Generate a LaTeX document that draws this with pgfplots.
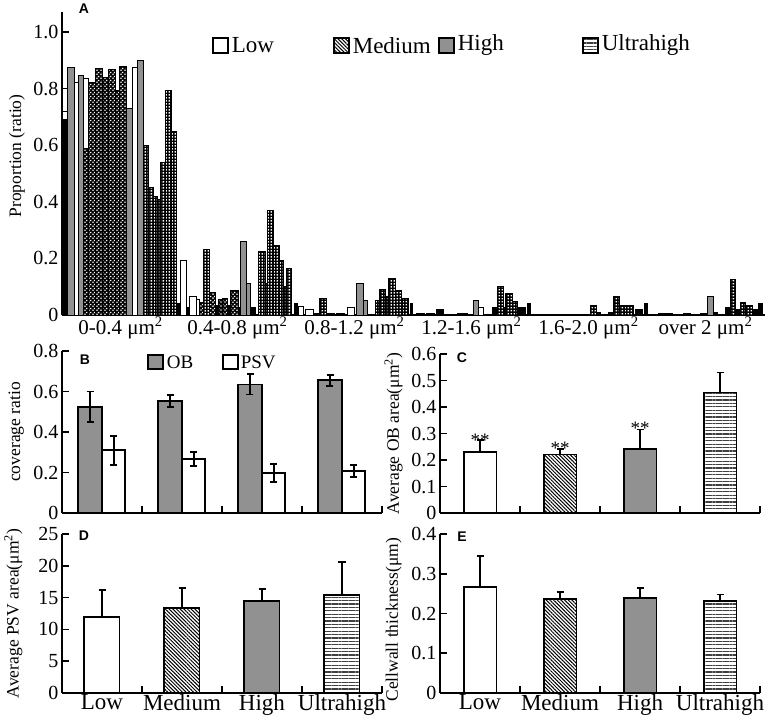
\documentclass[border=0pt]{standalone}
\usepackage{fontspec}
\setmainfont{Liberation Serif}
\newfontfamily\lsans{Liberation Sans}
\usepackage{pgfplots}
\pgfplotsset{compat=1.18}
\usetikzlibrary{patterns,patterns.meta}
\definecolor{gry}{RGB}{145,145,145}
\pgfdeclarepatternformonly{wsq}{\pgfqpoint{0pt}{0pt}}{\pgfqpoint{3pt}{3pt}}{\pgfqpoint{3pt}{3pt}}{\pgfpathrectangle{\pgfqpoint{0.65pt}{0.65pt}}{\pgfqpoint{1.7pt}{1.7pt}}\pgfusepath{fill}}
\pgfdeclarepatternformonly{wdi}{\pgfqpoint{0pt}{0pt}}{\pgfqpoint{4pt}{4pt}}{\pgfqpoint{4pt}{4pt}}{\pgfpathrectangle{\pgfqpoint{0.3pt}{0.3pt}}{\pgfqpoint{1.5pt}{1.5pt}}\pgfpathrectangle{\pgfqpoint{2.3pt}{2.3pt}}{\pgfqpoint{1.5pt}{1.5pt}}\pgfusepath{fill}}
\tikzset{
 lowst/.style={fill=white, draw=black, line width=1.8pt},
 medst/.style={draw=black, line width=1.8pt, pattern={Lines[angle=-45,distance=2.6pt,line width=1pt]}},
 highst/.style={fill=gry, draw=black, line width=1.8pt},
 ultst/.style={draw=black, line width=1.8pt, pattern={Lines[angle=0,distance=3.4pt,line width=1.3pt]}, pattern color=black!75},
 aB/.style={fill=black, draw=black, line width=0.9pt},
 aW/.style={fill=white, draw=black, line width=0.9pt},
 aG/.style={fill=gry, draw=black, line width=0.9pt},
 aQ/.style={fill=black, draw=black, line width=0.9pt, postaction={pattern=wsq, pattern color=white}},
 aD/.style={fill=black, draw=black, line width=0.9pt, postaction={pattern=wdi, pattern color=white}},
}
\newcommand{\ylf}{\fontsize{17.5}{20}\selectfont}
\newcommand{\bA}[4]{\addplot[ybar, bar shift=0pt, bar width=#2, #1] coordinates {(#3,#4)};}
\pgfplotsset{
 every axis/.append style={scale only axis, axis x line*=bottom, axis y line*=left,
  axis line style={line width=1.6pt}, tick style={line width=1.6pt, black},
  tick align=inside, major tick length=7pt,
  /pgf/number format/assume math mode=true,
  yticklabel style={font=\fontsize{20}{22}\selectfont}},
 ebars/.style={error bars/.cd, y dir=#1, y explicit,
  error bar style={line width=1.8pt, black},
  error mark options={rotate=90, line width=1.8pt, mark size=3.5pt, black}},
 catax/.style={xmin=-0.5, xmax=3.5, xtick={0.5,1.5,2.5,3.5}, xticklabels={,,,}},
 catlab/.style={extra x ticks={0,1,2,3}, extra x tick labels={Low,Medium,High,Ultrahigh},
  extra x tick style={major tick length=0pt},
  xticklabel style={font=\fontsize{23}{25}\selectfont, inner sep=1.5pt}},
}
\begin{document}
\begin{tikzpicture}[x=1pt,y=1pt]
\path[use as bounding box] (0pt,0pt) rectangle (768pt,723pt);
% ---------------- Panel A ----------------
\begin{axis}[at={(62pt,408pt)}, anchor=south west, width=703pt, height=303pt,
 xmin=62, xmax=765, ymin=0, ymax=1.0707,
 ytick={0,0.2,0.4,0.6,0.8,1.0}, yticklabels={0,0.2,0.4,0.6,0.8,1.0},
 xtick={120.5,237.5,354.5,471.5,588.5,705.5},
 xticklabels={0-0.4 μm\textsuperscript{2},0.4-0.8 μm\textsuperscript{2},0.8-1.2 μm\textsuperscript{2},1.2-1.6 μm\textsuperscript{2},1.6-2.0 μm\textsuperscript{2},over 2 μm\textsuperscript{2}},
 x tick style={draw=none}, xticklabel style={font=\fontsize{21}{23}\selectfont, inner sep=2pt},
 ylabel={\ylf Proportion (ratio)}, ylabel style={at={(axis description cs:-0.064,0.525)}, anchor=center}]
% group 1
\bA{aW}{5}{64.5}{0.72}
\bA{aB}{4}{64}{0.69}
\bA{aG}{7}{70.5}{0.876}
\bA{aW}{4}{76}{0.82}
\bA{aG}{5}{80.5}{0.845}
\bA{aW}{5}{85.5}{0.837}
\bA{aD}{5}{85.5}{0.59}
\bA{aD}{7}{91.5}{0.82}
\bA{aD}{7}{98.5}{0.87}
\bA{aD}{6}{105}{0.84}
\bA{aD}{7}{111.5}{0.866}
\bA{aD}{4}{117}{0.795}
\bA{aD}{7}{122.5}{0.88}
\bA{aG}{6}{129}{0.73}
\bA{aW}{5}{134.5}{0.876}
\bA{aG}{6}{140}{0.9}
\bA{aQ}{5}{145.5}{0.6}
\bA{aQ}{5}{150.5}{0.45}
\bA{aQ}{4}{155}{0.42}
\bA{aQ}{3}{158.5}{0.41}
\bA{aQ}{5}{162.5}{0.54}
\bA{aQ}{6}{168}{0.795}
\bA{aQ}{5}{173.5}{0.65}
\bA{aB}{4}{178}{0.04}
% group 2
\bA{aW}{6}{183}{0.194}
\bA{aB}{3}{187.5}{0.025}
\bA{aW}{7}{192.5}{0.064}
\bA{aW}{3}{197.5}{0.056}
\bA{aD}{4}{201}{0.046}
\bA{aQ}{6}{206}{0.233}
\bA{aD}{6}{212}{0.078}
\bA{aB}{3}{216.5}{0.035}
\bA{aD}{4}{220}{0.056}
\bA{aD}{5}{224.5}{0.06}
\bA{aB}{3}{228.5}{0.035}
\bA{aD}{8}{234}{0.085}
\bA{aB}{2}{239}{0.025}
\bA{aG}{6}{243}{0.26}
\bA{aG}{4}{248}{0.11}
\bA{aB}{5}{252.5}{0.025}
\bA{aQ}{7}{261.5}{0.226}
\bA{aQ}{2}{266}{0.113}
\bA{aQ}{6}{270}{0.37}
\bA{aQ}{6}{276}{0.244}
\bA{aQ}{4}{281}{0.194}
\bA{aQ}{3}{284.5}{0.1}
\bA{aQ}{5}{288.5}{0.163}
\bA{aB}{3}{295.5}{0.04}
% group 3
\bA{aW}{5}{300.5}{0.03}
\bA{aW}{8}{309}{0.02}
\bA{aB}{5}{315.5}{0.006}
\bA{aQ}{7}{322.5}{0.06}
\bA{aB}{8}{330}{0.006}
\bA{aB}{8}{340}{0.006}
\bA{aW}{7}{350.5}{0.028}
\bA{aG}{7}{359.5}{0.113}
\bA{aG}{4}{365}{0.053}
\bA{aQ}{4}{377}{0.053}
\bA{aQ}{6}{382}{0.09}
\bA{aQ}{3}{386.5}{0.067}
\bA{aQ}{7}{391.5}{0.13}
\bA{aQ}{6}{398}{0.085}
\bA{aQ}{6}{405}{0.06}
\bA{aB}{2}{411}{0.04}
% group 4
\bA{aB}{8}{420}{0.006}
\bA{aB}{8}{430}{0.006}
\bA{aB}{7}{439.5}{0.02}
\bA{aB}{10}{462}{0.006}
\bA{aG}{5}{475.5}{0.05}
\bA{aW}{5}{480.5}{0.025}
\bA{aB}{5}{494.5}{0.025}
\bA{aQ}{6}{500}{0.1}
\bA{aB}{2}{504}{0.025}
\bA{aQ}{7}{508.5}{0.075}
\bA{aQ}{5}{514.5}{0.047}
\bA{aB}{7}{521.5}{0.028}
\bA{aB}{3}{528.5}{0.042}
% group 5
\bA{aQ}{6}{593}{0.035}
\bA{aB}{4}{598}{0.008}
\bA{aB}{5}{610.5}{0.01}
\bA{aQ}{6}{616}{0.064}
\bA{aQ}{5}{621.5}{0.032}
\bA{aQ}{9}{628.5}{0.032}
\bA{aB}{7}{638.5}{0.018}
\bA{aB}{3}{645.5}{0.042}
% group 6
\bA{aB}{14}{665}{0.006}
\bA{aB}{7}{686.5}{0.006}
\bA{aB}{6}{703}{0.006}
\bA{aG}{6}{710}{0.064}
\bA{aB}{4}{715}{0.008}
\bA{aB}{5}{727.5}{0.025}
\bA{aQ}{5}{732.5}{0.124}
\bA{aB}{5}{737.5}{0.018}
\bA{aQ}{5}{742.5}{0.044}
\bA{aQ}{7}{748.5}{0.032}
\bA{aB}{5}{754.5}{0.02}
\bA{aB}{4}{760}{0.042}
\end{axis}
\node[font=\lsans\bfseries\fontsize{14}{16}\selectfont] at (84pt,714pt) {A};
% legend A
\begin{scope}[line width=1.6pt]
\draw[fill=white] (213pt,670pt) rectangle (228pt,685pt);
\node[anchor=west, font=\fontsize{23}{25}\selectfont, inner sep=0pt] at (231pt,677.5pt) {Low};
\draw[pattern={Lines[angle=-45,distance=2.6pt,line width=1pt]}] (334pt,670pt) rectangle (349pt,685pt);
\node[anchor=west, font=\fontsize{23}{25}\selectfont, inner sep=0pt] at (352pt,677.5pt) {Medium};
\draw[fill=gry] (439pt,670pt) rectangle (454pt,685pt);
\node[anchor=west, font=\fontsize{23}{25}\selectfont, inner sep=0pt] at (457pt,677.5pt) {High};
\draw[pattern={Lines[angle=0,distance=3.4pt,line width=1.3pt]}, pattern color=black!75] (583pt,670pt) rectangle (598pt,685pt);
\node[anchor=west, font=\fontsize{23}{25}\selectfont, inner sep=0pt] at (601pt,677.5pt) {Ultrahigh};
\end{scope}
% ---------------- Panel B ----------------
\begin{axis}[at={(62pt,210pt)}, anchor=south west, width=320pt, height=162pt, catax,
 ymin=0, ymax=0.8, ytick={0,0.2,0.4,0.6,0.8}, yticklabels={0,0.2,0.4,0.6,0.8},
 ylabel={\ylf coverage ratio}, ylabel style={at={(axis description cs:-0.143,0.5)}, anchor=center}]
\addplot[ybar, bar width=0.3, bar shift=0pt, highst, ebars=both] coordinates {(-0.15,0.525) +- (0,0.075) (0.85,0.553) +- (0,0.03) (1.85,0.635) +- (0,0.05) (2.85,0.655) +- (0,0.027)};
\addplot[ybar, bar width=0.29, bar shift=0pt, lowst, ebars=both] coordinates {(0.145,0.31) +- (0,0.072) (1.145,0.267) +- (0,0.033) (2.145,0.197) +- (0,0.045) (3.145,0.207) +- (0,0.03)};
\end{axis}
\node[font=\lsans\bfseries\fontsize{14}{16}\selectfont] at (85pt,363pt) {B};
\begin{scope}[line width=1.6pt]
\draw[fill=gry] (148pt,354pt) rectangle (163pt,368pt);
\node[anchor=west, font=\fontsize{19}{21}\selectfont, inner sep=0pt] at (166pt,361pt) {OB};
\draw[fill=white] (223pt,354pt) rectangle (238pt,368pt);
\node[anchor=west, font=\fontsize{19}{21}\selectfont, inner sep=0pt] at (240pt,361pt) {PSV};
\end{scope}
% ---------------- Panel C ----------------
\begin{axis}[at={(440pt,210pt)}, anchor=south west, width=320pt, height=159pt, catax,
 ymin=0, ymax=0.6, ytick={0,0.1,0.2,0.3,0.4,0.5,0.6}, yticklabels={0,0.1,0.2,0.3,0.4,0.5,0.6},
 ylabel={\ylf Average OB area(μm\textsuperscript{2})}, ylabel style={at={(axis description cs:-0.145,0.5)}, anchor=center}]
\addplot[ybar, bar width=0.41, bar shift=0pt, lowst, ebars=plus] coordinates {(0,0.231) +- (0,0.044)};
\addplot[ybar, bar width=0.41, bar shift=0pt, medst, ebars=plus] coordinates {(1,0.221) +- (0,0.022)};
\addplot[ybar, bar width=0.41, bar shift=0pt, highst, ebars=plus] coordinates {(2,0.243) +- (0,0.072)};
\addplot[ybar, bar width=0.41, bar shift=0pt, ultst, ebars=plus] coordinates {(3,0.455) +- (0,0.075)};
\node[font=\fontsize{19}{19}\selectfont] at (axis cs:0,0.276) {**};
\node[font=\fontsize{19}{19}\selectfont] at (axis cs:1,0.246) {**};
\node[font=\fontsize{19}{19}\selectfont] at (axis cs:2,0.32) {**};
\end{axis}
\node[font=\lsans\bfseries\fontsize{14}{16}\selectfont] at (462pt,365pt) {C};
% ---------------- Panel D ----------------
\begin{axis}[at={(62pt,30pt)}, anchor=south west, width=320pt, height=159pt, catax, catlab,
 ymin=0, ymax=25, ytick={0,5,10,15,20,25}, yticklabels={0,5,10,15,20,25},
 ylabel={\ylf Average PSV area(μm\textsuperscript{2})}, ylabel style={at={(axis description cs:-0.152,0.5)}, anchor=center}]
\addplot[ybar, bar width=0.44, bar shift=0pt, lowst, ebars=plus] coordinates {(0,11.95) +- (0,4.3)};
\addplot[ybar, bar width=0.44, bar shift=0pt, medst, ebars=plus] coordinates {(1,13.4) +- (0,3.1)};
\addplot[ybar, bar width=0.44, bar shift=0pt, highst, ebars=plus] coordinates {(2,14.5) +- (0,1.9)};
\addplot[ybar, bar width=0.44, bar shift=0pt, ultst, ebars=plus] coordinates {(3,15.45) +- (0,5.1)};
\end{axis}
\node[font=\lsans\bfseries\fontsize{14}{16}\selectfont] at (84pt,187pt) {D};
% ---------------- Panel E ----------------
\begin{axis}[at={(440pt,30pt)}, anchor=south west, width=320pt, height=159pt, catax, catlab,
 ymin=0, ymax=0.4, ytick={0,0.1,0.2,0.3,0.4}, yticklabels={0,0.1,0.2,0.3,0.4},
 ylabel={\ylf Cellwall thickness(μm)}, ylabel style={at={(axis description cs:-0.145,0.46)}, anchor=center}]
\addplot[ybar, bar width=0.41, bar shift=0pt, lowst, ebars=plus] coordinates {(0,0.266) +- (0,0.079)};
\addplot[ybar, bar width=0.41, bar shift=0pt, medst, ebars=plus] coordinates {(1,0.237) +- (0,0.017)};
\addplot[ybar, bar width=0.41, bar shift=0pt, highst, ebars=plus] coordinates {(2,0.239) +- (0,0.026)};
\addplot[ybar, bar width=0.41, bar shift=0pt, ultst, ebars=plus] coordinates {(3,0.231) +- (0,0.017)};
\end{axis}
\node[font=\lsans\bfseries\fontsize{14}{16}\selectfont] at (462pt,186pt) {E};
\end{tikzpicture}
\end{document}
